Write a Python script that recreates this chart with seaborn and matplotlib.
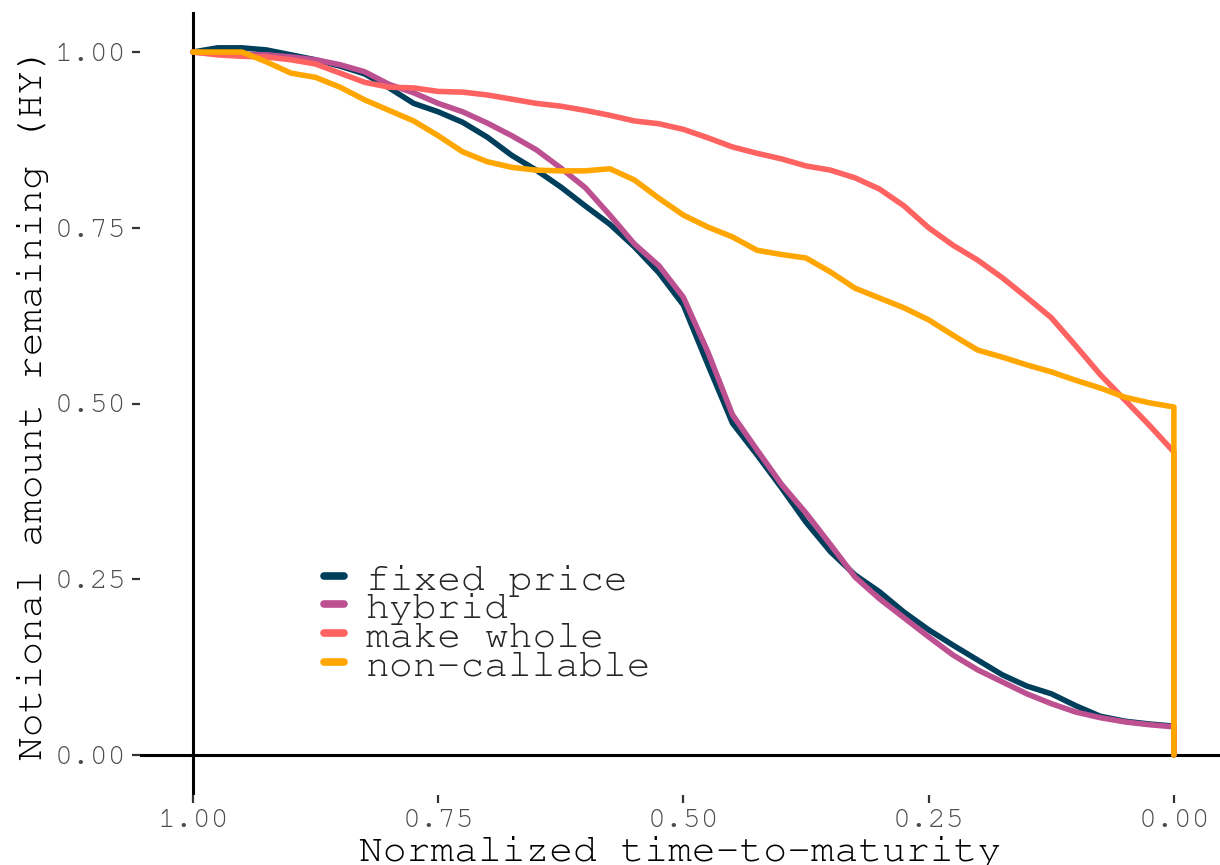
import numpy as np
import pandas as pd
import matplotlib
matplotlib.use("Agg")
import matplotlib.pyplot as plt
import seaborn as sns

# ---- data ----
ttm = [1.00, 0.975, 0.95, 0.925, 0.90, 0.875, 0.85, 0.825, 0.80, 0.775,
       0.75, 0.725, 0.70, 0.675, 0.65, 0.625, 0.60, 0.575, 0.55, 0.525,
       0.50, 0.475, 0.45, 0.425, 0.40, 0.375, 0.35, 0.325, 0.30, 0.275,
       0.25, 0.225, 0.20, 0.175, 0.15, 0.125, 0.10, 0.075, 0.05, 0.025,
       0.00, 0.00]

fixed_price = [1.000, 1.006, 1.006, 1.003, 0.996, 0.989, 0.980, 0.969, 0.949, 0.927,
               0.915, 0.900, 0.879, 0.853, 0.832, 0.808, 0.781, 0.755, 0.723, 0.686,
               0.640, 0.555, 0.472, 0.427, 0.380, 0.331, 0.289, 0.256, 0.232, 0.203,
               0.178, 0.156, 0.135, 0.114, 0.098, 0.087, 0.070, 0.055, 0.048, 0.044,
               0.041, 0.000]

hybrid = [1.000, 0.998, 0.997, 0.996, 0.993, 0.989, 0.982, 0.972, 0.954, 0.942,
          0.927, 0.915, 0.899, 0.881, 0.861, 0.835, 0.807, 0.768, 0.727, 0.696,
          0.651, 0.573, 0.484, 0.434, 0.385, 0.344, 0.299, 0.253, 0.222, 0.195,
          0.168, 0.142, 0.121, 0.104, 0.087, 0.073, 0.061, 0.053, 0.047, 0.043,
          0.040, 0.000]

make_whole = [1.000, 0.996, 0.994, 0.993, 0.989, 0.983, 0.970, 0.957, 0.950, 0.949,
              0.944, 0.943, 0.939, 0.933, 0.927, 0.923, 0.917, 0.910, 0.902, 0.898,
              0.890, 0.878, 0.865, 0.856, 0.848, 0.838, 0.832, 0.821, 0.805, 0.781,
              0.750, 0.725, 0.704, 0.679, 0.651, 0.622, 0.582, 0.541, 0.505, 0.469,
              0.431, 0.000]

non_callable = [1.000, 1.000, 1.000, 0.986, 0.970, 0.964, 0.950, 0.932, 0.917, 0.902,
                0.881, 0.858, 0.844, 0.836, 0.832, 0.831, 0.831, 0.834, 0.818, 0.792,
                0.768, 0.751, 0.737, 0.718, 0.712, 0.707, 0.687, 0.664, 0.650, 0.636,
                0.619, 0.597, 0.576, 0.566, 0.555, 0.545, 0.533, 0.522, 0.509, 0.501,
                0.495, 0.000]

categories = ["fixed price", "hybrid", "make whole", "non-callable"]
series = [fixed_price, hybrid, make_whole, non_callable]
colors = ["#003f5c", "#bc5090", "#ff6361", "#ffa600"]

x_ticks = [1.00, 0.75, 0.50, 0.25, 0.00]
x_tick_labels = ["1.00", "0.75", "0.50", "0.25", "0.00"]
y_ticks = [0.00, 0.25, 0.50, 0.75, 1.00]
y_tick_labels = ["0.00", "0.25", "0.50", "0.75", "1.00"]

df = pd.concat(
    [pd.DataFrame({"ttm": ttm, "notional": s, "type": c}) for c, s in zip(categories, series)],
    ignore_index=True,
)

# ---- plot ----
sns.set_theme(style="white")
plt.rcParams["font.family"] = ["FreeMono", "Courier Prime", "Liberation Mono", "DejaVu Sans Mono"]

fig = plt.figure(figsize=(12.2, 8.65), dpi=100)
ax = fig.add_axes([140 / 1220, 1 - 795 / 865, 1 - 140 / 1220, (795 - 12) / 865])

ax.axhline(0, color="black", lw=2.2, zorder=1)
ax.axvline(1, color="black", lw=2.2, zorder=1)

sns.lineplot(data=df, x="ttm", y="notional", hue="type", hue_order=categories,
             palette=colors, estimator=None, sort=False, lw=4.0, ax=ax)

ax.set_xlim(1.054, -0.047)
ax.set_ylim(-0.057, 1.057)
for s in ax.spines.values():
    s.set_visible(False)

ax.set_xticks(x_ticks)
ax.set_xticklabels(x_tick_labels)
ax.set_yticks(y_ticks)
ax.set_yticklabels(y_tick_labels)
ax.tick_params(axis="both", which="major", labelsize=21.5, labelcolor="#4d4d4d",
               color="#333333", length=6, width=1.6, direction="out", pad=4,
               bottom=True, left=True)
ax.grid(False)

ax.set_xlabel("Normalized time-to-maturity", fontsize=28.5, color="black", labelpad=2)
ax.set_ylabel("Notional amount remaining (HY)", fontsize=28.5, color="black", labelpad=4)

leg = ax.legend(title=None, loc="upper left", frameon=False,
                bbox_to_anchor=(324 / 1220, 1 - 562 / 865), bbox_transform=fig.transFigure,
                fontsize=28.5, handlelength=0.5, handletextpad=0.55,
                labelspacing=-0.155, borderpad=0, borderaxespad=0)
for h in leg.legend_handles:
    h.set_linewidth(5.5)

fig.savefig("out.png", dpi=100, facecolor="white")
